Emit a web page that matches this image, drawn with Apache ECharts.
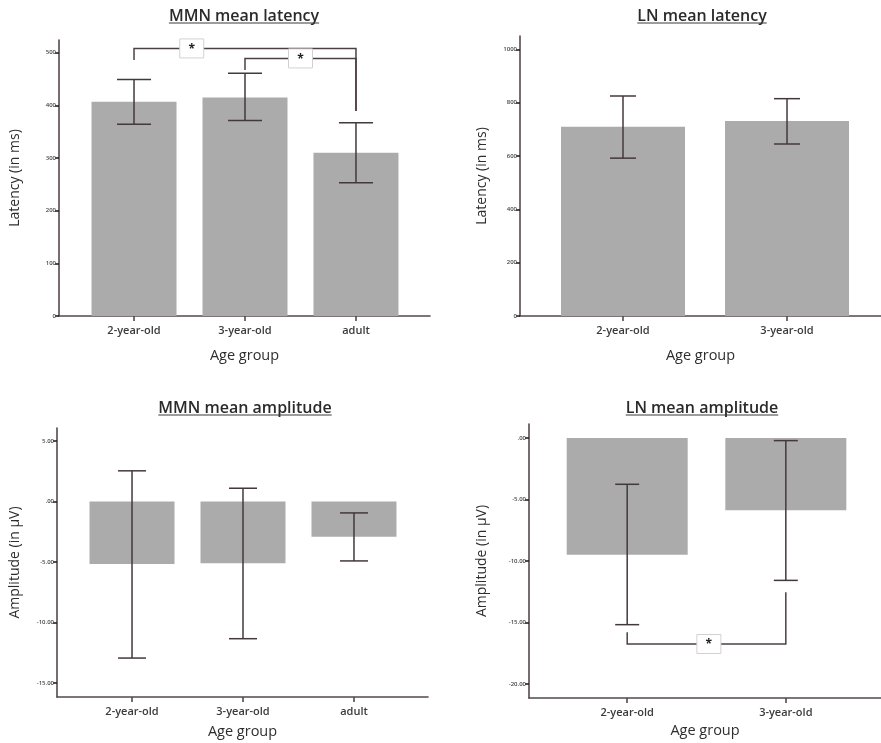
<!DOCTYPE html>
<html>
<head>
<meta charset="utf-8">
<script src="https://cdn.jsdelivr.net/npm/echarts@6/dist/echarts.min.js"></script>
<style>html,body{margin:0;padding:0;background:#fff;}#main{width:881px;height:743px;}</style>
</head>
<body>
<div id="main"></div>
<script>
// ---------- DATA ----------
const mmnLatCats = ['2-year-old', '3-year-old', 'adult'];
const mmnLatMean = [407, 415, 310];
const mmnLatLow = [364, 371, 253];
const mmnLatHigh = [449, 461, 367];
const mmnLatTicks = [0, 100, 200, 300, 400, 500];
// significance brackets: from category, to category, level, from-end, to-end, star position
const mmnLatSigFrom = [1, 2];
const mmnLatSigTo = [3, 3];
const mmnLatSigLevel = [508, 489];
const mmnLatSigFromEnd = [486, 467];
const mmnLatSigToEnd = [389, 389];
const mmnLatSigStar = [1.52, 2.5];

const lnLatCats = ['2-year-old', '3-year-old'];
const lnLatMean = [710, 731];
const lnLatLow = [592, 645];
const lnLatHigh = [825, 815];
const lnLatTicks = [0, 200, 400, 600, 800, 1000];

const mmnAmpCats = ['2-year-old', '3-year-old', 'adult'];
const mmnAmpMean = [-5.16, -5.10, -2.92];
const mmnAmpLow = [-12.94, -11.34, -4.91];
const mmnAmpHigh = [2.54, 1.10, -0.94];
const mmnAmpTicks = [5, 0, -5, -10, -15];

const lnAmpCats = ['2-year-old', '3-year-old'];
const lnAmpMean = [-9.49, -5.89];
const lnAmpLow = [-15.18, -11.58];
const lnAmpHigh = [-3.77, -0.22];
const lnAmpTicks = [0, -5, -10, -15, -20];
const lnAmpSigFrom = [1];
const lnAmpSigTo = [2];
const lnAmpSigLevel = [-16.75];
const lnAmpSigFromEnd = [-15.8];
const lnAmpSigToEnd = [-12.55];
const lnAmpSigStar = [1.515];

// ---------- STYLE ----------
const FONT = '"Open Sans", "DejaVu Sans", sans-serif';
const AXIS_COLOR = '#54484f';
const ERR_COLOR = '#43383e';
const BAR_COLOR = '#ababab';

function spss(v) {
  if (v === 0) return '.00';
  return v.toFixed(2);
}

const panels = [
  { title: 'MMN mean latency', cats: mmnLatCats, mean: mmnLatMean, low: mmnLatLow, high: mmnLatHigh, ticks: mmnLatTicks,
    fmt: v => String(v), yName: 'Latency (in ms)',
    grid: { left: 59, top: 40, width: 371, height: 276 }, xMin: 0.324, xMax: 3.667, yMin: 0, yMax: 524,
    barWidth: 85, cap: 17, yNameGap: 37, xNameGap: 32, titleX: 244, titleY: 8,
    sig: { from: mmnLatSigFrom, to: mmnLatSigTo, level: mmnLatSigLevel, fromEnd: mmnLatSigFromEnd, toEnd: mmnLatSigToEnd, star: mmnLatSigStar } },
  { title: 'LN mean latency', cats: lnLatCats, mean: lnLatMean, low: lnLatLow, high: lnLatHigh, ticks: lnLatTicks,
    fmt: v => String(v), yName: 'Latency (in ms)',
    grid: { left: 520, top: 36, width: 361, height: 280 }, xMin: 0.372, xMax: 2.573, yMin: 0, yMax: 1050,
    barWidth: 124, cap: 13, yNameGap: 31, xNameGap: 32, titleX: 702, titleY: 8, sig: null },
  { title: 'MMN mean amplitude', cats: mmnAmpCats, mean: mmnAmpMean, low: mmnAmpLow, high: mmnAmpHigh, ticks: mmnAmpTicks,
    fmt: spss, yName: 'Amplitude (in µV)',
    grid: { left: 57, top: 428, width: 371, height: 269 }, xMin: 0.324, xMax: 3.667, yMin: -16.16, yMax: 6.08,
    barWidth: 85, cap: 14, yNameGap: 35, xNameGap: 27, titleX: 245, titleY: 400, sig: null },
  { title: 'LN mean amplitude', cats: lnAmpCats, mean: lnAmpMean, low: lnAmpLow, high: lnAmpHigh, ticks: lnAmpTicks,
    fmt: spss, yName: 'Amplitude (in µV)',
    grid: { left: 529, top: 424, width: 352, height: 274 }, xMin: 0.381, xMax: 2.6, yMin: -21.14, yMax: 1.13,
    barWidth: 121, cap: 12, yNameGap: 40, xNameGap: 25, titleX: 702, titleY: 400,
    sig: { from: lnAmpSigFrom, to: lnAmpSigTo, level: lnAmpSigLevel, fromEnd: lnAmpSigFromEnd, toEnd: lnAmpSigToEnd, star: lnAmpSigStar } }
];

const grids = [], xAxes = [], yAxes = [], series = [], graphics = [];
const measureCtx = document.createElement('canvas').getContext('2d');
const TITLE_FONT_SIZE = 16;

panels.forEach((p, i) => {
  grids.push(Object.assign({ containLabel: false }, p.grid));
  const catValues = p.cats.map((c, k) => k + 1);
  xAxes.push({
    type: 'value', gridIndex: i, min: p.xMin, max: p.xMax,
    splitLine: { show: false },
    axisLine: { show: true, onZero: false, lineStyle: { color: AXIS_COLOR, width: 1.6 } },
    axisTick: { show: true, customValues: catValues, length: 5, lineStyle: { color: AXIS_COLOR, width: 1.6 } },
    axisLabel: { show: true, customValues: catValues, formatter: v => p.cats[Math.round(v) - 1] || '',
      fontFamily: FONT, fontSize: 11, fontWeight: 600, color: '#3a3a3a', margin: 9 },
    name: 'Age group', nameLocation: 'middle', nameGap: p.xNameGap,
    nameTextStyle: { fontFamily: FONT, fontSize: 14.5, color: '#2e2e2e' }
  });
  yAxes.push({
    type: 'value', gridIndex: i, min: p.yMin, max: p.yMax,
    splitLine: { show: false },
    axisLine: { show: true, onZero: false, lineStyle: { color: AXIS_COLOR, width: 1.6 } },
    axisTick: { show: true, customValues: p.ticks, length: 4, lineStyle: { color: '#222', width: 1.6 } },
    axisLabel: { show: true, customValues: p.ticks, formatter: p.fmt,
      fontFamily: FONT, fontSize: 6, fontWeight: 600, color: '#444', margin: 3 },
    name: p.yName, nameLocation: 'middle', nameRotate: 90, nameGap: p.yNameGap,
    nameTextStyle: { fontFamily: FONT, fontSize: 14, color: '#2e2e2e' }
  });
  series.push({
    type: 'bar', xAxisIndex: i, yAxisIndex: i, barWidth: p.barWidth,
    itemStyle: { color: BAR_COLOR }, silent: true, z: 2,
    data: p.cats.map((c, k) => [k + 1, p.mean[k]])
  });
  series.push({
    type: 'custom', xAxisIndex: i, yAxisIndex: i, z: 5, silent: true,
    encode: { x: 0, y: [1, 2] },
    data: p.cats.map((c, k) => [k + 1, p.low[k], p.high[k]]),
    renderItem: (params, api) => {
      const x = api.value(0);
      const lo = api.coord([x, api.value(1)]);
      const hi = api.coord([x, api.value(2)]);
      const st = { stroke: ERR_COLOR, lineWidth: 1.5 };
      return { type: 'group', children: [
        { type: 'line', shape: { x1: lo[0], y1: lo[1], x2: hi[0], y2: hi[1] }, style: st },
        { type: 'line', shape: { x1: lo[0] - p.cap, y1: lo[1], x2: lo[0] + p.cap, y2: lo[1] }, style: st },
        { type: 'line', shape: { x1: hi[0] - p.cap, y1: hi[1], x2: hi[0] + p.cap, y2: hi[1] }, style: st }
      ]};
    }
  });
  if (p.sig) {
    const s = p.sig;
    series.push({
      type: 'custom', xAxisIndex: i, yAxisIndex: i, z: 6, silent: true,
      encode: { x: [0, 1], y: 2 },
      data: s.from.map((f, k) => [f, s.to[k], s.level[k], s.fromEnd[k], s.toEnd[k], s.star[k]]),
      renderItem: (params, api) => {
        const a = api.coord([api.value(0), api.value(3)]);
        const b = api.coord([api.value(0), api.value(2)]);
        const c = api.coord([api.value(1), api.value(2)]);
        const d = api.coord([api.value(1), api.value(4)]);
        const m = api.coord([api.value(5), api.value(2)]);
        return { type: 'group', children: [
          { type: 'polyline', shape: { points: [a, b, c, d] }, style: { stroke: '#4a4046', lineWidth: 1.5, fill: null } },
          { type: 'rect', shape: { x: m[0] - 12, y: m[1] - 9.5, width: 24, height: 19 },
            style: { fill: '#ffffff', stroke: '#d4d0d2', lineWidth: 1 } },
          { type: 'text', x: m[0], y: m[1] + 1, style: { text: '*', fill: '#222', font: 'bold 12px ' + FONT,
            align: 'center', verticalAlign: 'middle' } }
        ]};
      }
    });
  }
  // title with underline
  const tfont = '600 ' + TITLE_FONT_SIZE + 'px ' + FONT;
  measureCtx.font = tfont;
  const w = measureCtx.measureText(p.title).width;
  graphics.push({
    type: 'group', x: p.titleX, y: p.titleY, children: [
      { type: 'text', x: 0, y: 0, style: { text: p.title, font: tfont, fill: '#2a2a2a', align: 'center', verticalAlign: 'top' } },
      { type: 'line', shape: { x1: -w / 2, y1: 15, x2: w / 2, y2: 15 }, style: { stroke: '#3a3a3a', lineWidth: 1 } }
    ]
  });
});

const chart = echarts.init(document.getElementById('main'), null, { renderer: 'canvas' });
chart.setOption({
  backgroundColor: '#ffffff',
  animation: false,
  grid: grids, xAxis: xAxes, yAxis: yAxes, series: series,
  graphic: graphics
});
</script>
</body>
</html>
